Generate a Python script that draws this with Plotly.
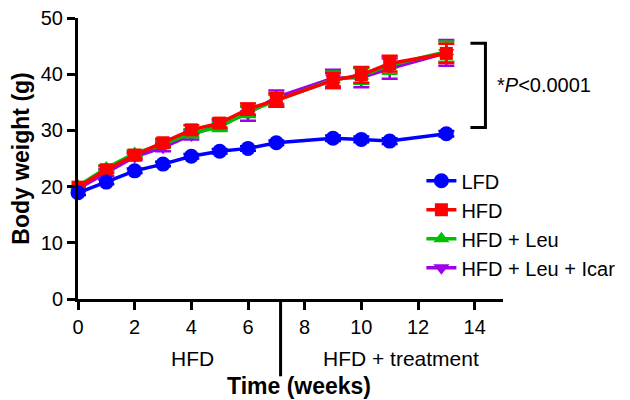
import plotly.graph_objects as go

weeks = [0, 1, 2, 3, 4, 5, 6, 7, 9, 10, 11, 13]

lfd = [18.9, 20.8, 22.8, 24.0, 25.4, 26.3, 26.8, 27.8, 28.6, 28.4, 28.1, 29.4]
lfd_err = [0.4, 0.4, 0.4, 0.4, 0.4, 0.4, 0.4, 0.4, 0.5, 0.5, 0.5, 0.5]

hfd = [19.9, 23.0, 25.6, 27.8, 30.1, 31.3, 33.8, 35.4, 38.9, 39.9, 41.9, 43.7]
hfd_err = [0.4, 0.6, 0.6, 0.7, 0.8, 0.8, 1.0, 1.2, 1.3, 1.4, 1.4, 1.7]

leu = [20.1, 23.3, 25.9, 27.5, 29.5, 30.6, 33.3, 35.3, 39.0, 39.7, 41.6, 44.0]
leu_err = [0.4, 0.5, 0.6, 0.6, 0.7, 0.7, 0.9, 1.0, 1.5, 1.4, 1.5, 1.8]

icar = [19.6, 22.5, 25.3, 27.0, 29.2, 31.0, 33.0, 35.9, 39.3, 39.4, 41.0, 43.8]
icar_err = [0.4, 0.6, 0.6, 0.7, 0.8, 0.8, 1.3, 1.2, 1.5, 1.7, 1.8, 2.3]

# drawn back to front; legend is reversed so LFD comes first
groups = [
    ("HFD + Leu + Icar", icar, icar_err, "#A000E8", "triangle-down", 14),
    ("HFD + Leu", leu, leu_err, "#00C000", "triangle-up", 14),
    ("HFD", hfd, hfd_err, "#FF0000", "square", 13),
    ("LFD", lfd, lfd_err, "#0000FF", "circle", 15),
]

fig = go.Figure()
for name, vals, err, col, sym, sz in groups:
    fig.add_trace(go.Scatter(
        x=weeks, y=vals, name=name, mode="lines+markers",
        line=dict(color=col, width=3.5),
        marker=dict(color=col, symbol=sym, size=sz),
        error_y=dict(type="data", array=err, color=col, thickness=2.5, width=8),
        cliponaxis=False,
    ))

font = "Liberation Sans, Arial, sans-serif"
axis_style = dict(showline=True, linecolor="black", linewidth=3,
                  ticks="outside", ticklen=8, tickwidth=3, tickcolor="black",
                  showgrid=False, zeroline=False, automargin=False,
                  ticklabeloverflow="allow", tickfont=dict(size=20))

# page body has an 8px margin, so the figure is a bit smaller than the window
fig.update_layout(
    width=622, height=392,
    margin=dict(l=70, r=119, t=10, b=101),
    plot_bgcolor="white", paper_bgcolor="white",
    font=dict(family=font, size=20, color="black"),
    showlegend=True,
    legend=dict(x=0.808, y=0.49, xanchor="left", yanchor="top",
                traceorder="reversed", font=dict(size=20),
                bgcolor="rgba(0,0,0,0)", tracegroupgap=0),
    xaxis=dict(range=[0, 15], tickvals=[0, 2, 4, 6, 8, 10, 12, 14], **axis_style),
    yaxis=dict(range=[0, 50], tickvals=[0, 10, 20, 30, 40, 50],
               title=dict(text="<b>Body weight (g)</b>", font=dict(size=23), standoff=17),
               **axis_style),
)

# phase separator below the x axis
fig.add_shape(type="line", xref="x", yref="paper", x0=7.15, x1=7.15, y0=0, y1=-0.275,
              line=dict(color="black", width=3))
fig.add_annotation(x=4.05, y=-0.213, xref="x", yref="paper", text="HFD",
                   showarrow=False, yanchor="middle", font=dict(size=21))
fig.add_annotation(x=11.4, y=-0.213, xref="x", yref="paper", text="HFD + treatment",
                   showarrow=False, yanchor="middle", font=dict(size=21))
fig.add_annotation(x=7.8, y=-0.31, xref="x", yref="paper", text="<b>Time (weeks)</b>",
                   showarrow=False, yanchor="middle", font=dict(size=23))

# significance bracket
fig.add_shape(type="path", xref="x", yref="y",
              path="M 13.85 45.5 L 14.38 45.5 L 14.38 30.5 L 13.85 30.5",
              line=dict(color="black", width=3))
fig.add_annotation(x=0.982, y=38.0, xref="paper", yref="y", text="*<i>P</i><0.0001",
                   showarrow=False, xanchor="left", font=dict(size=20))

fig.write_html("out.html")
